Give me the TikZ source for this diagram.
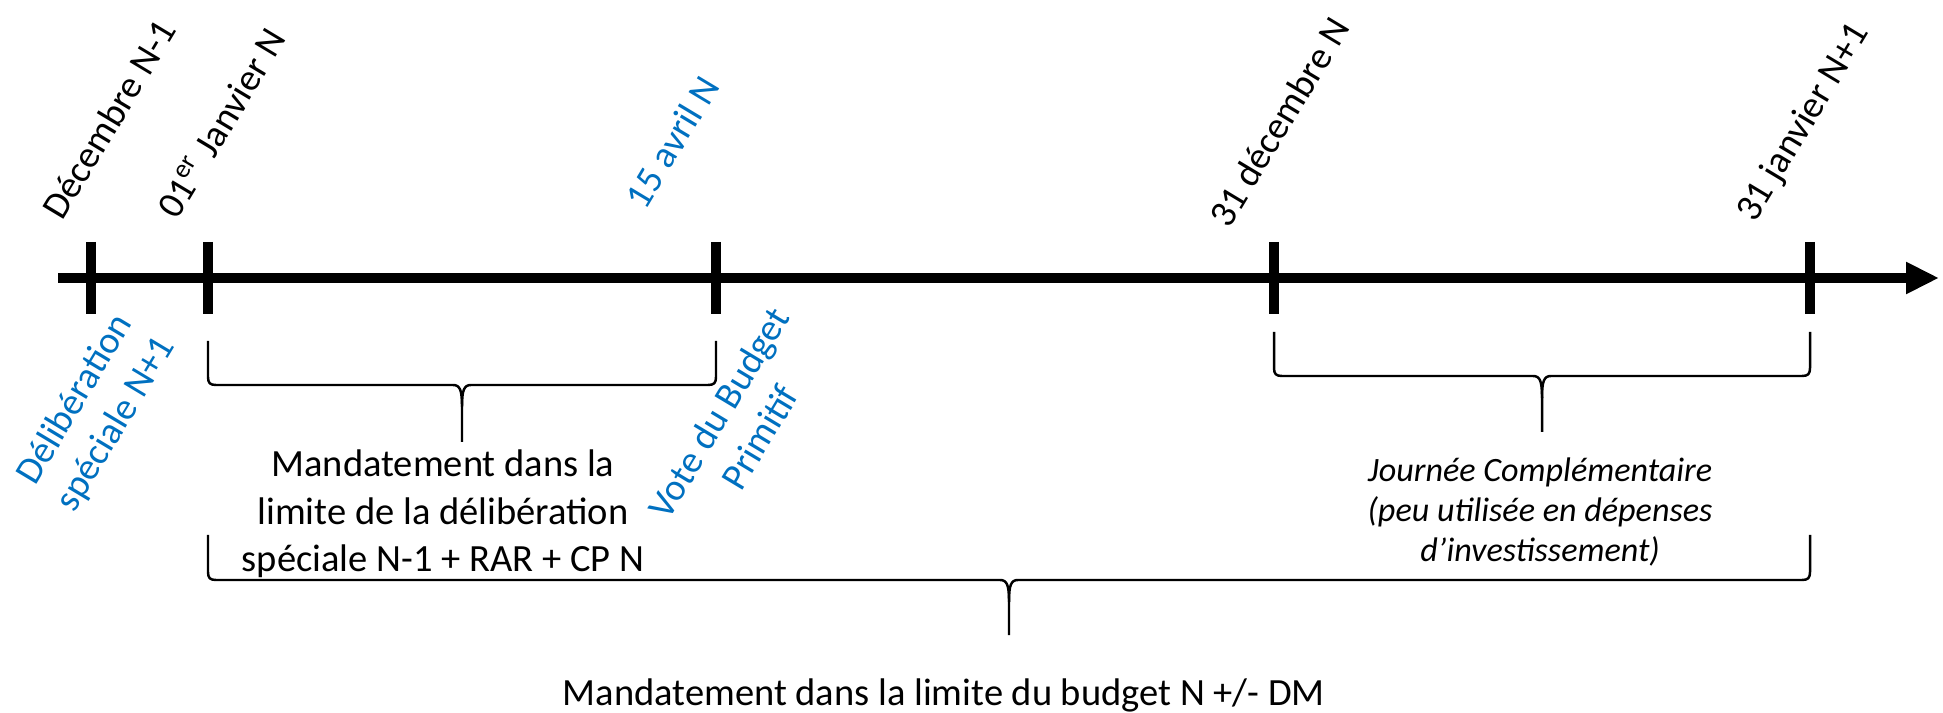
\documentclass[tikz,border=0pt]{standalone}
\usepackage{fontspec}
\setmainfont{Carlito}
\usetikzlibrary{arrows.meta}
\definecolor{bleu}{HTML}{0070C0}

\tikzset{
  axe/.style={line width=0.1cm, -{Triangle[length=0.33cm,width=0.30cm]}},
  trait/.style={line width=0.1cm},
  accol/.style={line width=0.7pt, line join=round},
  date/.style={rotate=59, inner sep=0pt, font=\fontsize{10.8}{13.6}\selectfont},
  texte/.style={align=center, inner sep=0pt, font=\fontsize{10.95}{13.5}\selectfont},
  italique/.style={align=center, inner sep=0pt, font=\fontsize{9.7}{11.5}\selectfont\itshape},
}

% accolade : x gauche, x droite, haut, ligne, pointe
\newcommand{\accolade}[5]{%
  \pgfmathsetmacro\xmil{(#1+#2)/2}
  \draw[accol] (#1,#3) -- (#1,#4-8) .. controls (#1,#4-2) and (#1+2,#4) .. (#1+8,#4)
    -- (\xmil-9,#4) .. controls (\xmil-2,#4) and (\xmil,#4+5) .. (\xmil,#4+22) -- (\xmil,#5);
  \draw[accol] (#2,#3) -- (#2,#4-8) .. controls (#2,#4-2) and (#2-2,#4) .. (#2-8,#4)
    -- (\xmil+9,#4) .. controls (\xmil+2,#4) and (\xmil,#4+5) .. (\xmil,#4+22);
}

\begin{document}
\begin{tikzpicture}[x=0.01cm, y=-0.01cm]
\useasboundingbox (0,0) rectangle (1943,713);

% axe du temps
\draw[axe] (58,278) -- (1939,278);
\foreach \x in {91,208,716,1274,1810}
  \draw[trait] (\x,242) -- (\x,314);

% dates
\node[date] (decm) at (109,119) {Décembre N-1};
\node[date] (janv) at (221,123) {01\textsuperscript{er} Janvier N};
\node[date, text=bleu] (avril) at (672,142) {15 avril N};
\node[date] (decn) at (1279,122) {31 décembre N};
\node[date] (janvn) at (1804,123) {31 janvier N+1};

% evenements
\node[date, text=bleu, align=center] (delib) at (96,412) {Délibération\\spéciale N+1};
\node[date, text=bleu, align=center] (vote) at (739,425) {Vote du Budget\\Primitif};

% accolades
\accolade{208}{716}{341}{385}{442}
\accolade{1274}{1810}{332}{376}{432}
\accolade{208}{1810}{535}{580}{635}

% periodes
\node[texte] (mandat) at (443,514) {Mandatement dans la\\limite de la délibération\\spéciale N-1 + RAR + CP N};
\node[italique] (journee) at (1540,512) {Journée Complémentaire\\(peu utilisée en dépenses\\d’investissement)};
\node[texte, anchor=base west] (budget) at (562,705) {Mandatement dans la limite du budget N +/- DM};
\end{tikzpicture}
\end{document}
